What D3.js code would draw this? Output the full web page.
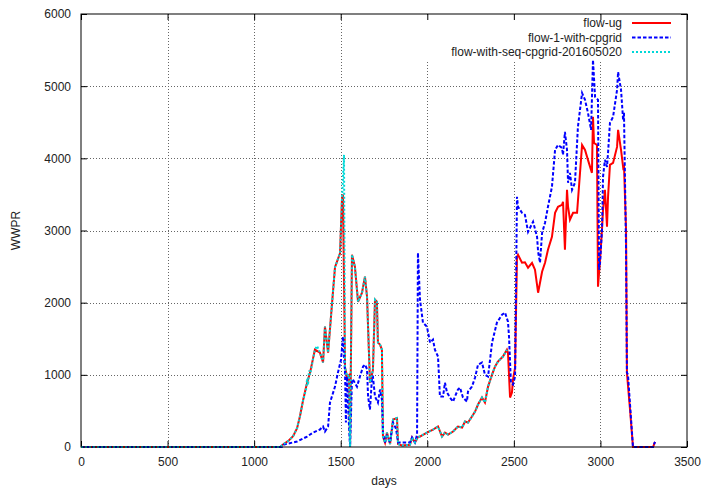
<!DOCTYPE html>
<html>
<head>
<meta charset="utf-8">
<script src="https://cdn.jsdelivr.net/npm/d3@7.9.0/dist/d3.min.js"></script>
<style>
  body { margin: 0; background: #fff; }
  text { font-family: "Liberation Sans", Arial, sans-serif; font-size: 12px; fill: #222; }
</style>
</head>
<body>
<div id="vis"></div>
<script>
const width = 707, height = 489;
const margin = {top: 14, right: 20, bottom: 42, left: 81};

const xTicks = [0, 500, 1000, 1500, 2000, 2500, 3000, 3500];
const yTicks = [0, 1000, 2000, 3000, 4000, 5000, 6000];
const seriesNames = ["flow-ug", "flow-1-with-cpgrid", "flow-with-seq-cpgrid-201605020"];

// [days, WWPR]
const flowUg = [
  [0,0],[1150,0],[1167,35],[1200,90],[1225,150],[1248,260],[1265,430],[1282,640],[1300,830],
  [1311,934],[1323,1031],[1351,1349],[1380,1308],
  [1398,1170],[1409,1668],[1427,1308],[1450,1993],[1467,2491],[1496,2685],[1507,3419],[1513,3500],
  [1525,1100],[1536,980],[1548,1000],[1554,0],[1565,2664],[1582,2498],[1600,2013],[1623,2138],
  [1640,2360],[1652,2082],[1669,892],[1686,1065],[1698,2041],[1709,2013],[1715,1446],[1727,1419],
  [1738,1349],[1744,145],[1756,62],[1767,200],[1785,40],[1802,380],[1825,400],[1831,40],[1854,20],
  [1900,30],[1912,131],[1929,62],[1946,137],[1958,145],[1998,200],[2033,242],[2062,284],[2085,145],
  [2102,200],[2120,173],[2149,215],[2177,284],[2201,270],[2218,353],[2235,339],[2258,422],[2276,491],
  [2293,588],[2316,685],[2333,616],[2351,837],[2374,1003],[2391,1114],[2408,1183],[2437,1253],
  [2460,1349],[2466,1308],[2478,685],[2489,754],[2495,934],[2507,1100],[2518,2637],[2524,2664],
  [2547,2553],[2564,2560],[2582,2484],[2605,2550],[2622,2457],[2640,2138],[2651,2276],[2663,2429],
  [2680,2553],[2697,2733],[2720,2913],[2738,3245],[2755,3329],[2778,3356],[2784,3398],[2795,2733],
  [2807,3564],[2813,3329],[2824,3149],[2842,3245],[2865,3245],[2894,4186],[2911,4117],[2928,3979],
  [2951,3799],[2957,4574],[2963,4214],[2980,4186],[2986,2221],[2998,2600],[3009,3010],[3015,3287],
  [3026,3564],[3038,3052],[3044,3467],[3055,3910],[3073,3937],[3096,4158],[3102,4394],[3119,4117],
  [3131,3882],[3136,3910],[3148,3010],[3153,1031],[3171,519],[3188,0],[3304,0],[3315,70]
];

const flowCpgrid = [
  [0,0],[1160,0],[1173,35],[1248,76],[1306,145],[1340,200],[1380,242],[1398,284],[1409,215],
  [1427,284],[1438,615],[1467,837],[1484,1031],[1502,1211],[1513,1530],[1525,1031],[1530,339],
  [1536,976],[1548,284],[1554,0],[1565,934],[1571,934],[1594,837],[1611,976],[1629,1114],[1640,1142],
  [1652,1080],[1658,699],[1669,519],[1681,976],[1686,976],[1698,699],[1715,615],[1727,796],[1738,657],
  [1744,200],[1756,62],[1767,150],[1785,62],[1802,339],[1820,250],[1831,62],[1900,62],[1912,131],
  [1929,62],[1941,173],[1946,2691],[1958,2041],[1975,1723],[1998,1668],[2016,1446],[2033,1488],
  [2044,1349],[2062,1253],[2073,699],[2091,699],[2102,892],[2114,754],[2131,685],[2149,630],[2160,699],
  [2177,796],[2189,823],[2206,685],[2229,630],[2235,768],[2258,837],[2276,962],[2293,1142],[2316,1170],
  [2333,1003],[2351,976],[2374,1446],[2402,1723],[2432,1834],[2449,1862],[2466,1737],[2472,1530],
  [2483,892],[2495,865],[2507,976],[2518,3467],[2524,3329],[2547,3245],[2564,3218],[2582,2982],
  [2611,3121],[2634,2913],[2640,2705],[2651,2553],[2663,2968],[2680,3107],[2697,3329],[2720,3606],
  [2738,4117],[2755,4186],[2778,4145],[2784,4048],[2795,4366],[2807,4117],[2813,3661],[2824,3799],
  [2836,3564],[2853,3661],[2870,4436],[2894,4906],[2911,4810],[2928,4630],[2946,4394],[2957,5363],
  [2969,4851],[2986,4810],[2992,2457],[2998,2553],[3009,3010],[3015,3744],[3026,3979],[3038,3882],
  [3044,4076],[3055,4491],[3073,4574],[3096,4948],[3102,5197],[3119,4948],[3131,4533],[3136,4630],
  [3148,2733],[3153,1031],[3159,1003],[3188,0],[3304,0],[3315,70]
];

const flowSeq = [
  [0,0],[1150,0],[1167,35],[1200,90],[1225,150],[1248,260],[1265,430],[1282,640],[1300,800],
  [1306,950],[1311,860],[1317,1060],
  [1323,1000],[1351,1349],[1363,1400],[1380,1308],[1398,1170],[1409,1668],[1427,1308],[1450,1993],
  [1467,2491],[1496,2685],[1507,3419],[1519,4048],[1525,1100],[1536,980],[1548,1000],[1554,0],
  [1565,2664],[1582,2498],[1600,2013],[1623,2138],[1640,2360],[1652,2082],[1669,892],[1686,1065],
  [1698,2041],[1709,2013],[1715,1446],[1727,1419],[1738,1349],[1744,145],[1756,62],[1767,200],
  [1785,40],[1802,380],[1825,400],[1831,40],[1854,20],[1900,30],[1912,131],[1929,62],[1946,137],
  [1958,145],[1998,200],[2033,242],[2062,284],[2085,145],[2102,200],[2120,173],[2149,215],[2177,284],
  [2201,270],[2218,353],[2235,339],[2258,422],[2276,491],[2293,588],[2316,685],[2333,616],[2351,837],
  [2374,1003],[2391,1114],[2408,1183],[2437,1253],[2460,1349]
];

const svg = d3.select("#vis").append("svg")
    .attr("width", width)
    .attr("height", height);

const x = d3.scaleLinear().domain([0, 3500]).range([margin.left, width - margin.right]);
const y = d3.scaleLinear().domain([0, 6000]).range([height - margin.bottom, margin.top]);

// grid
const grid = svg.append("g")
    .attr("stroke", "#666")
    .attr("stroke-width", 1)
    .attr("stroke-dasharray", "1,2");
grid.selectAll(".gx").data(xTicks.slice(1, -1)).enter().append("line")
    .attr("x1", d => Math.round(x(d)) + 0.5).attr("x2", d => Math.round(x(d)) + 0.5)
    .attr("y1", y(0)).attr("y2", y(6000));
grid.selectAll(".gy").data(yTicks.slice(1, -1)).enter().append("line")
    .attr("y1", d => Math.round(y(d)) + 0.5).attr("y2", d => Math.round(y(d)) + 0.5)
    .attr("x1", x(0)).attr("x2", x(3500));

// legend background hides the grid
svg.append("rect")
    .attr("x", 426).attr("y", y(6000) + 1)
    .attr("width", 255).attr("height", 46)
    .attr("fill", "#fff");

// axes with inward ticks on all four sides
const tickLen = 6;
const fmt = d3.format("d");
svg.append("g")
    .attr("transform", `translate(0,${y(0)})`)
    .call(d3.axisBottom(x).tickValues(xTicks).tickFormat(fmt).tickSizeInner(-tickLen).tickSizeOuter(0).tickPadding(10))
    .call(g => g.select(".domain").remove());
svg.append("g")
    .attr("transform", `translate(0,${y(6000)})`)
    .call(d3.axisTop(x).tickValues(xTicks).tickSizeInner(-tickLen).tickSizeOuter(0).tickFormat(""))
    .call(g => g.select(".domain").remove());
svg.append("g")
    .attr("transform", `translate(${x(0)},0)`)
    .call(d3.axisLeft(y).tickValues(yTicks).tickFormat(fmt).tickSizeInner(-tickLen).tickSizeOuter(0).tickPadding(10))
    .call(g => g.select(".domain").remove());
svg.append("g")
    .attr("transform", `translate(${x(3500)},0)`)
    .call(d3.axisRight(y).tickValues(yTicks).tickSizeInner(-tickLen).tickSizeOuter(0).tickFormat(""))
    .call(g => g.select(".domain").remove());

svg.selectAll(".tick text")
    .style("font-family", '"Liberation Sans", Arial, sans-serif')
    .style("font-size", "12px")
    .attr("fill", "#222");
svg.selectAll(".tick line").attr("stroke", "#000");

const line = d3.line().x(d => x(d[0])).y(d => y(d[1]));

svg.append("path").datum(flowUg)
    .attr("d", line).attr("fill", "none")
    .attr("stroke", "#ff0000").attr("stroke-width", 2);
svg.append("path").datum(flowCpgrid)
    .attr("d", line).attr("fill", "none")
    .attr("stroke", "#0000ff").attr("stroke-width", 2)
    .attr("stroke-dasharray", "3.5,2");
svg.append("path").datum(flowSeq)
    .attr("d", line).attr("fill", "none")
    .attr("stroke", "#00d8d8").attr("stroke-width", 2)
    .attr("stroke-dasharray", "2,2");

// frame
svg.append("rect")
    .attr("x", x(0)).attr("y", y(6000))
    .attr("width", x(3500) - x(0)).attr("height", y(0) - y(6000))
    .attr("fill", "none").attr("stroke", "#000").attr("stroke-width", 1);

// axis titles
svg.append("text")
    .attr("x", (x(0) + x(3500)) / 2).attr("y", 485)
    .attr("text-anchor", "middle").text("days");
svg.append("text")
    .attr("transform", `translate(20,${(y(0) + y(6000)) / 2}) rotate(-90)`)
    .attr("text-anchor", "middle").text("WWPR");

// legend
const legendStyles = [
  {color: "#ff0000", dash: null, w: 2},
  {color: "#0000ff", dash: "3.5,2", w: 2},
  {color: "#00d8d8", dash: "2,2", w: 2}
];
const legend = svg.append("g");
seriesNames.forEach((name, i) => {
  const ly = 23 + i * 14.5;
  legend.append("text")
      .attr("x", 622).attr("y", ly).attr("dy", "0.35em")
      .attr("text-anchor", "end").text(name);
  legend.append("line")
      .attr("x1", 632).attr("x2", 671).attr("y1", ly).attr("y2", ly)
      .attr("stroke", legendStyles[i].color)
      .attr("stroke-width", legendStyles[i].w)
      .attr("stroke-dasharray", legendStyles[i].dash);
});
</script>
</body>
</html>
